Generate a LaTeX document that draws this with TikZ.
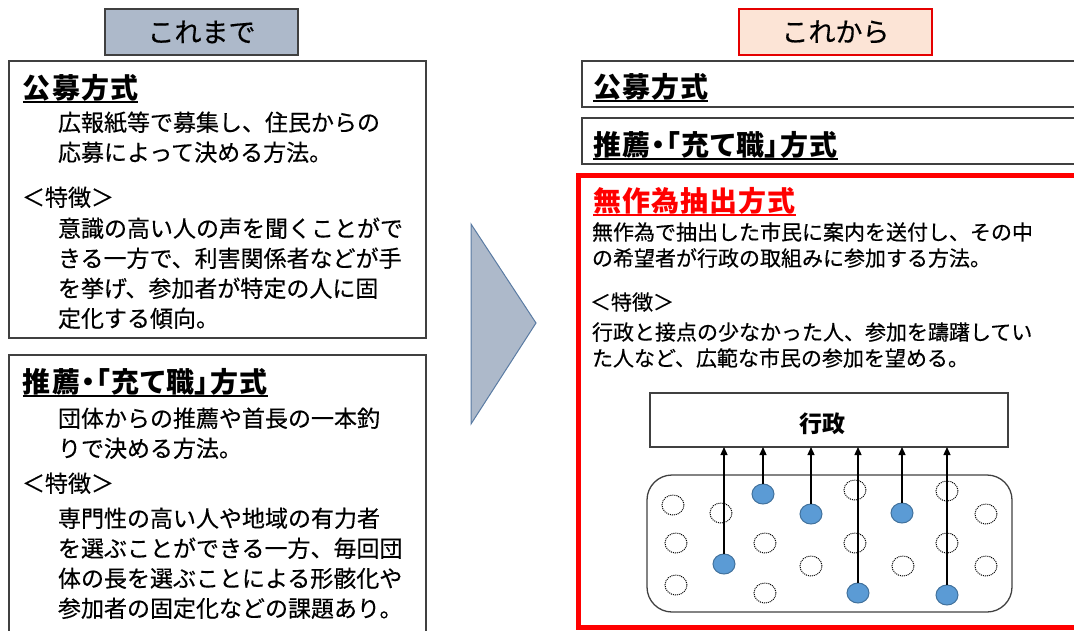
\documentclass[tikz,border=0pt]{standalone}
\usepackage{fontspec}
\setmainfont{Noto Sans CJK JP}[UprightFeatures={FakeBold=0.4}]
\newfontfamily\titlefont[RawFeature=+palt, LetterSpace=4]{Noto Sans CJK JP}
\usetikzlibrary{positioning, arrows.meta, shapes.geometric}

\definecolor{headgray}{HTML}{ADB9CA}
\definecolor{headpeach}{HTML}{FCE4D6}
\definecolor{boxline}{HTML}{404040}
\definecolor{pickblue}{HTML}{5B9BD5}
\definecolor{pickedge}{HTML}{41719C}
\definecolor{arrowedge}{HTML}{5A7BA3}

\newcommand{\titleline}[1]{\setbox0=\hbox{#1}\rlap{\rule[-5pt]{\wd0}{1.6pt}}\box0}

\begin{document}
\begin{tikzpicture}[x=1pt, y=-1pt,
    every node/.style={inner sep=0pt, outer sep=0pt},
    title/.style={anchor=base west, font=\titlefont\bfseries\fontsize{28}{30}\selectfont},
    body/.style={anchor=base west, text width=400pt, align=left, font=\fontsize{23}{30}\selectfont},
    redbody/.style={anchor=base west, text width=470pt, align=left, font=\fontsize{21}{26}\selectfont},
    chosen/.style={ellipse, draw=pickedge, fill=pickblue, line width=1pt, minimum width=22pt, minimum height=20pt},
    idle/.style={ellipse, draw=black, densely dotted, line width=1pt, minimum width=22pt, minimum height=20pt},
    pull/.style={-{Triangle[length=8pt, width=7pt]}, line width=1.3pt}]
    \useasboundingbox (0,0) rectangle (1074,630);
    \clip (0,0) rectangle (1074,630);

    % headers
    \node[draw=boxline, fill=headgray, line width=1.2pt, minimum width=193pt, minimum height=46pt,
          font=\fontsize{27}{30}\selectfont] (before) at (201.5,32) {これまで};
    \node[draw=red!90!black, fill=headpeach, line width=1.2pt, minimum width=193pt, minimum height=46pt,
          font=\fontsize{27}{30}\selectfont] (after) at (835.5,32) {これから};

    % left boxes
    \draw[boxline, line width=1.5pt] (9,61) rectangle (426,338);
    \draw[boxline, line width=1.5pt] (9,355) rectangle (426,640);

    % first left box
    \node[title] (kouboA) at (23,98) {\titleline{公募方式}};
    \node[body] (kouboAtxt) at (58,131) {広報紙等で募集し、住民からの\\応募によって決める方法。};
    \node[body] (kouboAmark) at (22,206) {＜特徴＞};
    \node[body] (kouboAfeat) at (58,237) {意識の高い人の声を聞くことがで\\きる一方で、利害関係者などが手\\を挙げ、参加者が特定の人に固\\定化する傾向。};

    % second left box
    \node[title] (suisenA) at (23,392) {\titleline{推薦・「充て職」方式}};
    \node[body] (suisenAtxt) at (58,427) {団体からの推薦や首長の一本釣\\りで決める方法。};
    \node[body] (suisenAmark) at (22,492) {＜特徴＞};
    \node[body] (suisenAfeat) at (58,527) {専門性の高い人や地域の有力者\\を選ぶことができる一方、毎回団\\体の長を選ぶことによる形骸化や\\参加者の固定化などの課題あり。};

    % big arrow in the middle
    \draw[fill=headgray, draw=arrowedge, line width=1pt] (471,224) -- (536,323) -- (471,424) -- cycle;

    % right boxes
    \draw[boxline, line width=1.5pt] (582,61) rectangle (1090,107);
    \draw[boxline, line width=1.5pt] (582,118) rectangle (1090,164);
    \draw[red, line width=5pt] (578,175) rectangle (1090,627);

    \node[title] (kouboB) at (593,97) {\titleline{公募方式}};
    \node[title] (suisenB) at (593,155) {\titleline{推薦・「充て職」方式}};
    \node[title, text=red] (musakui) at (593,211) {\titleline{無作為抽出方式}};
    \node[redbody] (musakuitxt) at (592,240) {無作為で抽出した市民に案内を送付し、その中\\の希望者が行政の取組みに参加する方法。};
    \node[redbody] (musakuimark) at (590,310) {＜特徴＞};
    \node[redbody] (musakuifeat) at (592,340) {行政と接点の少なかった人、参加を躊躇してい\\た人など、広範な市民の参加を望める。};

    % administration box and citizens
    \node[draw=boxline, line width=1.2pt, minimum width=358pt, minimum height=54pt] (gyousei) at (829,420) {};
    \node[font=\bfseries\fontsize{23}{26}\selectfont] (gyouseitxt) at (822,424) {行政};
    \draw[boxline, line width=1.3pt, rounded corners=25pt] (647,475) rectangle (1012,612);

    % citizens not chosen
    \node[idle] (q1) at (673,505) {};
    \node[idle] (q2) at (721,513) {};
    \node[idle] (q3) at (676,543) {};
    \node[idle] (q4) at (765,543) {};
    \node[idle] (q5) at (676,585) {};
    \node[idle] (q6) at (765,593) {};
    \node[idle] (q7) at (811,566) {};
    \node[idle] (q8) at (855,490) {};
    \node[idle] (q9) at (855,543) {};
    \node[idle] (q10) at (903,566) {};
    \node[idle] (q11) at (947,491) {};
    \node[idle] (q12) at (947,543) {};
    \node[idle] (q13) at (986,514) {};
    \node[idle] (q14) at (986,566) {};

    % chosen citizens
    \node[chosen] (p1) at (724,564) {};
    \node[chosen] (p2) at (763,494) {};
    \node[chosen] (p3) at (811,514) {};
    \node[chosen] (p4) at (858,593) {};
    \node[chosen] (p5) at (902,513) {};
    \node[chosen] (p6) at (947,595) {};

    % arrows up to the administration
    \draw[pull] (p1) -- (p1 |- gyousei.south);
    \draw[pull] (p2) -- (p2 |- gyousei.south);
    \draw[pull] (p3) -- (p3 |- gyousei.south);
    \draw[pull] (p4) -- (p4 |- gyousei.south);
    \draw[pull] (p5) -- (p5 |- gyousei.south);
    \draw[pull] (p6) -- (p6 |- gyousei.south);
\end{tikzpicture}
\end{document}
